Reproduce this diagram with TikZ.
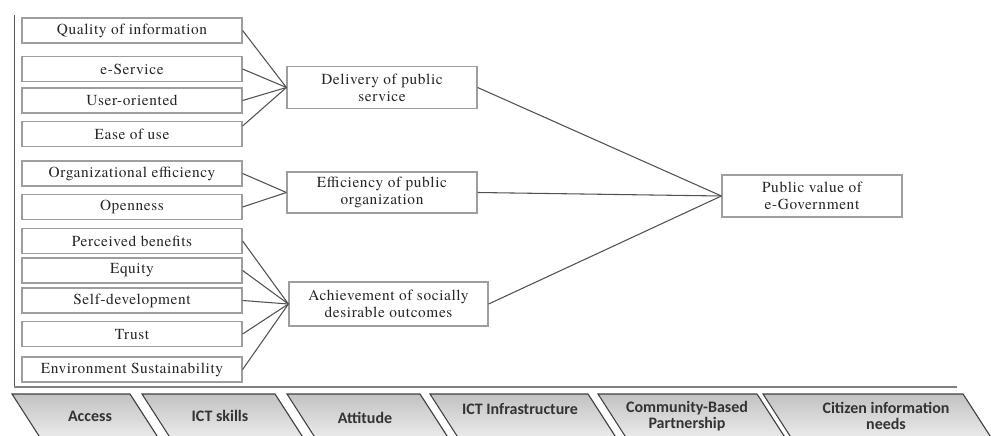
\documentclass[tikz,border=0pt]{standalone}
\usepackage{fontspec}
\setmainfont{texgyretermes}[Extension=.otf, UprightFont=*-regular, BoldFont=*-bold, ItalicFont=*-italic, BoldItalicFont=*-bolditalic]
\newfontfamily\tabfont{Carlito}
\begin{document}
\begin{tikzpicture}[x=0.75pt,y=-0.75pt,
  factor/.style={draw=black!38, line width=0.9pt, fill=white, inner sep=0pt,
    minimum width=165pt, minimum height=18.75pt, align=center, text=black!85,
    font=\rmfamily\fontsize{11.5}{12.75}\selectfont\addfontfeature{LetterSpace=4}},
  construct/.style={factor, minimum width=142.5pt, minimum height=32pt},
  link/.style={draw=black!68, line width=0.8pt},
  tabshape/.style={draw=black!75, line width=0.8pt, top color=black!24, bottom color=black!7},
  tabshadow/.style={fill=black!45, draw=none, opacity=0.6},
  tablabel/.style={font=\tabfont\bfseries\fontsize{12}{11.6}\selectfont, text=black!80, align=center, inner sep=0pt}]
\useasboundingbox (0,0) rectangle (991,435);

% frame of the model
\draw[black!65, line width=1.4pt] (14.5,15) -- (14.5,387);
\draw[black!50, line width=1.3pt] (14,387) -- (957,387);

% first-order factors
\node[factor] (qual)   at (132,30.5)  {Quality of information};
\node[factor] (eserv)  at (132,69)    {e-Service};
\node[factor] (user)   at (132,100.5) {User-oriented};
\node[factor] (ease)   at (132,134)   {Ease of use};
\node[factor] (orgeff) at (132,173.5) {Organizational efficiency};
\node[factor] (open)   at (132,207)   {Openness};
\node[factor] (perc)   at (132,241)   {Perceived benefits};
\node[factor] (equity) at (132,270.5) {Equity};
\node[factor] (selfdev)at (132,300.5) {Self-development};
\node[factor] (trust)  at (132,334)   {Trust};
\node[factor] (env)    at (132,369.5) {Environment Sustainability};

% second-order constructs
\node[construct] (deliv)  at (382,87.5)  {Delivery of public\\service};
\node[construct, minimum height=30.75pt] (effic) at (382,192.5) {Efficiency of public\\organization};
\node[construct, minimum width=149.25pt, minimum height=33pt] (achiev) at (388.5,304) {Achievement of socially\\desirable outcomes};
\node[construct, minimum width=135pt, minimum height=31.5pt] (pubval) at (812,196) {Public value of\\e-Government};

% links to the constructs
\foreach \f in {qual,eserv,user} \draw[link] (\f.east) -- (deliv.west);
\draw[link] ([yshift=6pt]ease.east) -- (deliv.west);
\foreach \f in {orgeff,open} \draw[link] (\f.east) -- (effic.west);
\foreach \f in {perc,equity,selfdev,trust,env} \draw[link] (\f.east) -- (achiev.west);
\foreach \f in {deliv,effic,achiev} \draw[link] (\f.east) -- (pubval.west);

% enabling conditions along the base
\begin{scope}
\clip (0,0) rectangle (991,435);
\foreach \a/\b in {12/130,142/275,287/420,430/588,598/757,763/963}{
  \fill[tabshadow] (\a+2,396) -- (\b+2,396) -- (\b+31.6,442) -- (\a+31.6,442) -- cycle;
  \draw[tabshape] (\a,394) -- (\b,394) -- (\b+29.6,440) -- (\a+29.6,440) -- cycle;
}
\end{scope}
\node[tablabel] (access) at (90,416)  {Access};
\node[tablabel] (skills) at (220,416) {ICT skills};
\node[tablabel] (attit)  at (365,418) {Attitude};
\node[tablabel] (infra)  at (520,409) {ICT Infrastructure};
\node[tablabel] (commun) at (687,416) {Community-Based\\Partnership};
\node[tablabel] (needs)  at (886,416) {Citizen information\\needs};
\end{tikzpicture}
\end{document}
